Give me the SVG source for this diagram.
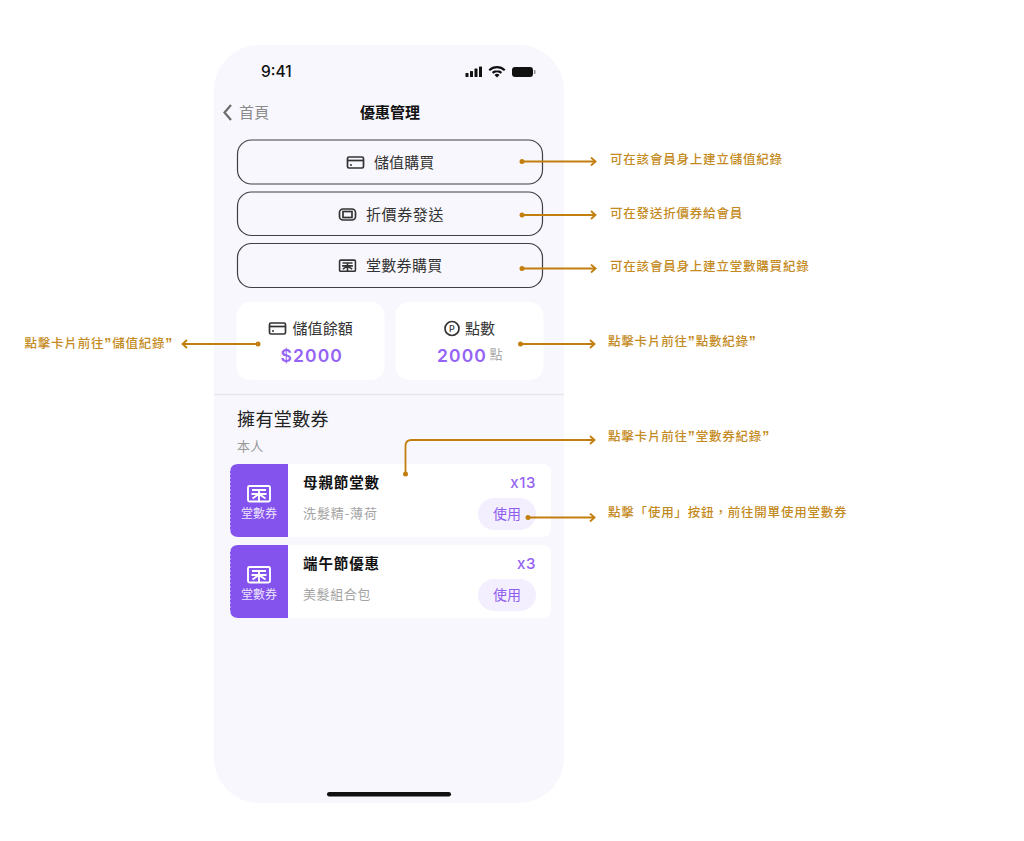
<svg xmlns="http://www.w3.org/2000/svg" width="1024" height="841" viewBox="0 0 1024 841">
<style>
text{font-family:"Noto Sans CJK TC","Noto Sans",sans-serif}
.lat{font-family:Inter,"Noto Sans",sans-serif}
.q{font-family:"Liberation Sans",sans-serif;font-size:14px;font-weight:700}
.btn{fill:none;stroke:#3f3f46;stroke-width:1.2}
.btnt{font-size:15px;fill:#333;letter-spacing:.1px}
.card{fill:#fff}
.num{font-family:Inter,sans-serif;font-size:17.500px;font-weight:600;fill:#9564f5;letter-spacing:1.100px}
.ico{fill:none;stroke:#333;stroke-width:1.700}
.coup{fill:#fff}
.stub{fill:#8452EC}
.ct{font-size:14.500px;font-weight:700;fill:#111;letter-spacing:.9px}
.cs{font-size:13px;fill:#a3a3a3;letter-spacing:.9px}
.cq{font-family:Inter,sans-serif;font-size:15px;font-weight:500;fill:#9564f5;letter-spacing:.6px}
.use{fill:#F3EFFE}
.uset{font-size:14px;fill:#8f5cf0}
.st{font-size:12px;fill:#ece4ff}
.w{fill:none;stroke:#fff;stroke-width:1.900}
.note{font-size:12.500px;font-weight:500;fill:#C48A22;letter-spacing:.8px}
.conn{fill:none;stroke:#C27F0E;stroke-width:1.800}
.dot{fill:#C27F0E}
</style>
<defs>
<marker id="ah" viewBox="0 0 8 10" refX="6.500" refY="5" markerWidth="8" markerHeight="10" markerUnits="userSpaceOnUse" orient="auto-start-reverse"><path d="M2 1L6.500 5L2 9" fill="none" stroke="#C27F0E" stroke-width="1.800"/></marker>
<g id="ticket"><rect x="-11" y="-7.500" width="22" height="15.500" rx="1.500"/><path d="M-7 -3.500H7M0 -3.500V8M-6.500 5L0 0.500L6.500 5M-7.500 0.500H7.500"/></g>
</defs>
<rect width="1024" height="841" fill="#fff"/>
<g id="phone">
<rect x="214" y="45" width="350" height="758" rx="45" fill="#F8F7FD"/>
<text x="261" y="76.500" class="lat" font-size="15.500" font-weight="500" fill="#111">9:41</text>
<g fill="#111"><rect x="465.500" y="73" width="3" height="4" rx=".6"/><rect x="470" y="71" width="3" height="6" rx=".6"/><rect x="474.500" y="68.500" width="3" height="8.500" rx=".6"/><rect x="479" y="66.500" width="3" height="10.500" rx=".6"/>
<path d="M497 66a12.500 12.500 0 0 0-8.500 3.400l1.500 1.600a10.300 10.300 0 0 1 7-2.800a10.300 10.300 0 0 1 7 2.800l1.500-1.600a12.500 12.500 0 0 0-8.500-3.400z"/><path d="M497 70a7.500 7.500 0 0 0-5.200 2.100l1.500 1.600a5.300 5.300 0 0 1 7.400 0l1.500-1.600a7.500 7.500 0 0 0-5.200-2.100z"/><path d="M494.500 75L497 77.500L499.500 75a3.500 3.500 0 0 0-5 0z"/>
<rect x="512" y="67" width="21" height="10" rx="3"/><rect x="534" y="70" width="1.500" height="4" rx=".7" fill="#888"/></g>
<path d="M231 105L224.500 112.500L231 120" fill="none" stroke="#6b6b6b" stroke-width="2.200"/>
<text x="239" y="118" font-size="15" fill="#8a8a8a" letter-spacing=".3">首頁</text>
<text x="390" y="118" font-size="15" font-weight="700" fill="#111" text-anchor="middle">優惠管理</text>
<line x1="214" y1="394.500" x2="564" y2="394.500" stroke="#E8E7EC" stroke-width="1.500"/>
<text x="237" y="426" font-size="18" fill="#222" letter-spacing=".4">擁有堂數券</text>
<text x="237" y="451" font-size="13" fill="#999" letter-spacing=".3">本人</text>
<rect x="327" y="792" width="124" height="4.500" rx="2.200" fill="#111"/>
</g>
<g id="btn-stored">
<rect class="btn" x="237.500" y="140" width="305" height="44" rx="14"/>
<rect class="ico" x="347.500" y="157" width="16" height="11" rx="1.500"/><path d="M347.500 160.500H363.500" class="ico"/><circle cx="351" cy="165" r="1" fill="#333"/>
<text class="btnt" x="374" y="167.500">儲值購買</text>
</g>
<g id="btn-send">
<rect class="btn" x="237.500" y="192" width="305" height="43.500" rx="14"/>
<rect class="ico" x="339.500" y="209" width="16" height="11" rx="3.500"/><rect class="ico" x="343" y="211.500" width="9" height="6"/>
<text class="btnt" x="366" y="219.500" style="letter-spacing:.6px">折價券發送</text>
</g>
<g id="btn-buy">
<rect class="btn" x="237.500" y="243.500" width="305" height="44" rx="14"/>
<use href="#ticket" transform="translate(347.500 265.500) scale(.72)" class="ico" style="stroke-width:2.200"/>
<text class="btnt" x="366" y="271" style="letter-spacing:.3px">堂數券購買</text>
</g>
<g id="card-balance">
<rect class="card" x="236.500" y="302" width="148" height="78" rx="14"/>
<rect class="ico" x="269.500" y="323" width="16" height="11" rx="1.500"/><path d="M269.500 326.500H285.500" class="ico"/><circle cx="273" cy="331" r="1" fill="#333"/>
<text class="btnt" x="292.500" y="334">儲值餘額</text>
<text class="num" x="280.500" y="361.500">$2000</text>
</g>
<g id="card-points">
<rect class="card" x="395.500" y="302" width="148" height="78" rx="14"/>
<circle class="ico" cx="452" cy="328.500" r="7"/><text x="452" y="331.800" class="lat" font-size="9" font-weight="500" fill="#333" text-anchor="middle">P</text>
<text class="btnt" x="465" y="334">點數</text>
<text class="num" x="437" y="361.500">2000</text>
<text x="489.500" y="359" font-size="13" fill="#aaa">點</text>
</g>
<g id="coupon-1">
<rect class="coup" x="230" y="464" width="321" height="73" rx="8"/>
<path class="stub" d="M238 464H288V537H238Q231 537 230 530V471Q231 464 238 464Z"/>
<path d="M229.800 469v63" stroke="#F8F7FD" stroke-width="1.200" stroke-dasharray="2 2" fill="none"/>
<use href="#ticket" class="w" transform="translate(259 493.500)"/>
<text class="st" x="259" y="518" text-anchor="middle">堂數券</text>
<text class="ct" x="303" y="488">母親節堂數</text>
<text class="cs" x="303" y="518">洗髮精-薄荷</text>
<text class="cq" x="536" y="488" text-anchor="end">x13</text>
<rect class="use" x="478" y="498" width="58" height="32" rx="16"/>
<text class="uset" x="493" y="518.500">使用</text>
</g>
<g id="coupon-2">
<rect class="coup" x="230" y="545" width="321" height="73" rx="8"/>
<path class="stub" d="M238 545H288V618H238Q231 618 230 611V552Q231 545 238 545Z"/>
<path d="M229.800 550v63" stroke="#F8F7FD" stroke-width="1.200" stroke-dasharray="2 2" fill="none"/>
<use href="#ticket" class="w" transform="translate(259 574.500)"/>
<text class="st" x="259" y="599" text-anchor="middle">堂數券</text>
<text class="ct" x="303" y="569">端午節優惠</text>
<text class="cs" x="303" y="599" style="letter-spacing:.6px">美髮組合包</text>
<text class="cq" x="536" y="569" text-anchor="end">x3</text>
<rect class="use" x="478" y="579" width="58" height="32" rx="16"/>
<text class="uset" x="493" y="599.500">使用</text>
</g>
<g id="connectors">
<path class="conn" d="M522 161.500H595.500" marker-end="url(#ah)"/><circle class="dot" cx="522" cy="161.500" r="2.500"/>
<path class="conn" d="M522 215H595.500" marker-end="url(#ah)"/><circle class="dot" cx="522" cy="215" r="2.500"/>
<path class="conn" d="M522 268.500H595.500" marker-end="url(#ah)"/><circle class="dot" cx="522" cy="268.500" r="2.500"/>
<path class="conn" d="M520.500 344H594.500" marker-end="url(#ah)"/><circle class="dot" cx="520.500" cy="344" r="2.500"/>
<path class="conn" d="M258 344H182.500" marker-end="url(#ah)"/><circle class="dot" cx="258" cy="344" r="2.500"/>
<path class="conn" d="M405.500 474V446Q405.500 440 411.500 440H594.500" marker-end="url(#ah)"/><circle class="dot" cx="405.500" cy="474" r="2.500"/>
<path class="conn" d="M528 517.500H594.500" marker-end="url(#ah)"/><circle class="dot" cx="528" cy="517.500" r="2.500"/>
</g>
<g id="notes">
<text class="note" x="610" y="163.500">可在該會員身上建立儲值紀錄</text>
<text class="note" x="610" y="217.500">可在發送折價券給會員</text>
<text class="note" x="610" y="270.500">可在該會員身上建立堂數購買紀錄</text>
<text class="note" x="608" y="346">點擊卡片前往<tspan class="q">”</tspan>點數紀錄<tspan class="q">”</tspan></text>
<text class="note" x="608" y="441">點擊卡片前往<tspan class="q">”</tspan>堂數券紀錄<tspan class="q">”</tspan></text>
<text class="note" x="608" y="517">點擊「使用」按鈕，前往開單使用堂數券</text>
<text class="note" x="24.500" y="348">點擊卡片前往<tspan class="q">”</tspan>儲值紀錄<tspan class="q">”</tspan></text>
</g>
</svg>
